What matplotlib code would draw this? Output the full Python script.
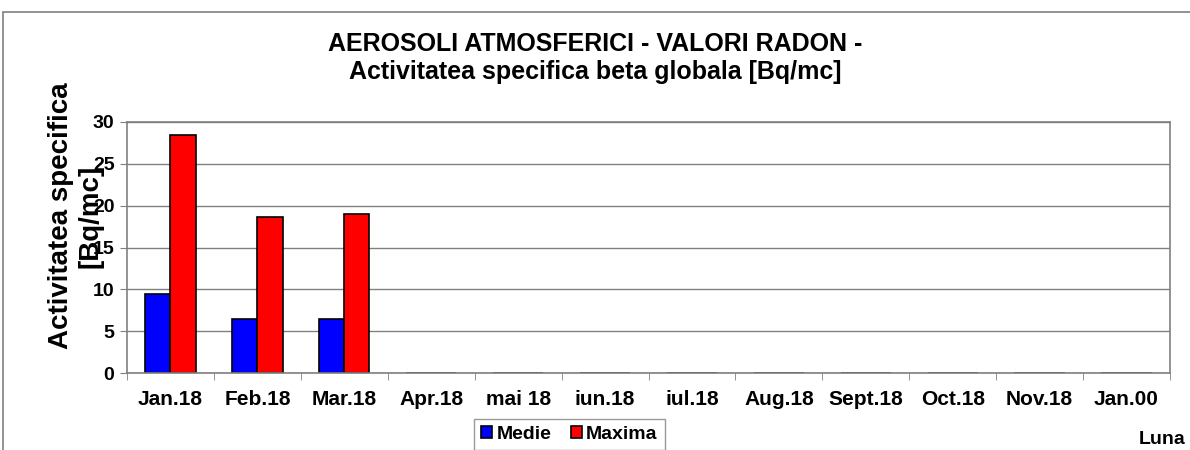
import matplotlib.pyplot as plt
from matplotlib.patches import Rectangle
import numpy as np

plt.rcParams['font.family'] = ['Liberation Sans', 'DejaVu Sans']
plt.rcParams['font.weight'] = 'bold'

luni = ['Jan.18', 'Feb.18', 'Mar.18', 'Apr.18', 'mai 18', 'iun.18', 'iul.18',
        'Aug.18', 'Sept.18', 'Oct.18', 'Nov.18', 'Jan.00']
medie = [9.4, 6.4, 6.5, 0, 0, 0, 0, 0, 0, 0, 0, 0]
maxima = [28.4, 18.6, 19.0, 0, 0, 0, 0, 0, 0, 0, 0, 0]

fig = plt.figure(figsize=(11.9, 4.5), dpi=100)
# chenarul exterior
fig.patches.append(Rectangle((3 / 1190, -0.1), 1.2, 1.1 - 12 / 450,
                             transform=fig.transFigure, fill=False,
                             edgecolor='#808080', linewidth=1.2))

ax = fig.add_axes([127 / 1190, 1 - 373 / 450, (1170 - 127) / 1190, (373 - 122) / 450])

x = np.arange(len(luni))
w = 0.29
ax.bar(x - w / 2, medie, w, color='#0000ff', edgecolor='black', linewidth=1.2, label='Medie')
ax.bar(x + w / 2, maxima, w, color='#ff0000', edgecolor='black', linewidth=1.2, label='Maxima')

ax.set_xlim(-0.5, len(luni) - 0.5)
ax.set_ylim(0, 30)
ax.set_yticks(range(0, 31, 5))
ax.yaxis.grid(True, color='#808080', linewidth=1)
ax.set_axisbelow(True)

ax.set_xticks(x)
ax.set_xticklabels(luni, fontsize=15, fontweight='bold')
ax.tick_params(axis='x', length=0, pad=12)
ax.set_xticks(np.arange(-0.5, len(luni), 1), minor=True)
ax.tick_params(axis='x', which='minor', length=5, direction='out', color='#808080')
ax.tick_params(axis='y', labelsize=14, length=5, color='#808080', pad=4)
for lbl in ax.get_yticklabels():
    lbl.set_fontweight('bold')

for s in ax.spines.values():
    s.set_color('#808080')
    s.set_linewidth(1.2)

ax.set_ylabel('Activitatea specifica\n[Bq/mc]', fontsize=20, fontweight='bold',
              linespacing=1.15)
ax.yaxis.set_label_coords(-0.023, 0.625)

fig.text(0.5, 1 - 44 / 450, 'AEROSOLI ATMOSFERICI - VALORI RADON -', ha='center',
         va='center', fontsize=18, fontweight='bold')
fig.text(0.5, 1 - 72 / 450, 'Activitatea specifica beta globala [Bq/mc]', ha='center',
         va='center', fontsize=18, fontweight='bold')

leg = fig.legend(loc='upper left', bbox_to_anchor=(474 / 1190, 1 - 419 / 450), ncol=2,
                 fontsize=14, frameon=True, fancybox=False, edgecolor='#808080',
                 handlelength=0.6, handleheight=0.6, handletextpad=0.2, columnspacing=1.0,
                 borderpad=0.35, borderaxespad=0)
for t in leg.get_texts():
    t.set_fontweight('bold')

fig.text(1162 / 1190, 1 - 440 / 450, 'Luna', ha='center', va='center', fontsize=14,
         fontweight='bold')

fig.savefig('out.png', dpi=100)
